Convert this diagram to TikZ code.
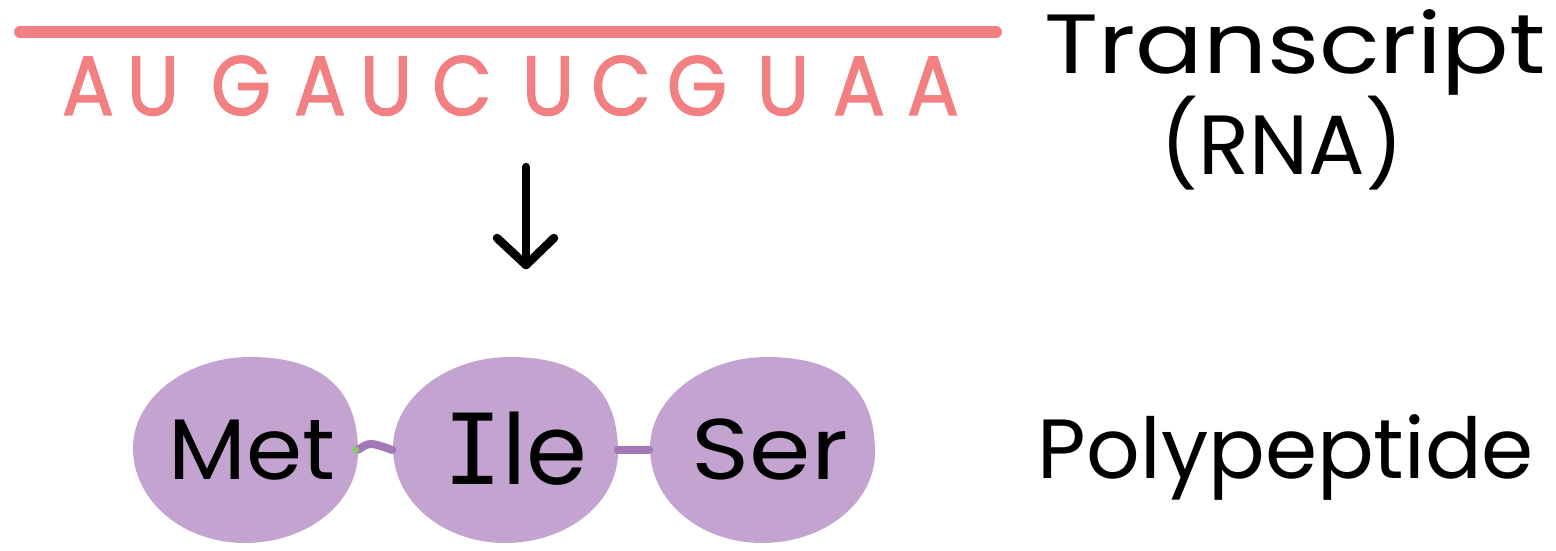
\documentclass[tikz,border=0pt]{standalone}
\usepackage{fontspec}
\setmainfont{Poppins}
\newfontfamily\rnafont[FakeBold=1.6]{Poppins}
\newfontfamily\serifI{DejaVu Sans Mono}
\usetikzlibrary{shapes.geometric}
\definecolor{rna}{RGB}{242,128,130}
\definecolor{blobc}{RGB}{195,163,207}
\definecolor{bond}{RGB}{162,120,182}
\definecolor{tipg}{RGB}{140,200,110}
\tikzset{
  base/.style={font=\fontsize{84}{90}\selectfont, inner sep=0pt, anchor=base},
  rnaletter/.style={base, text=rna, font=\rnafont\fontsize{84}{90}\selectfont, xscale=0.92},
  label/.style={base, text=black},
  residue/.style={ellipse, minimum width=225pt, minimum height=186pt, inner sep=0pt},
  restext/.style={inner sep=0pt, anchor=center, text=black, font=\fontsize{86}{90}\selectfont},
  blobfill/.style={fill=blobc, draw=none},
  bondline/.style={draw=bond, line width=8pt, line cap=round},
  arrowline/.style={draw=black, line width=8.5pt, line cap=round, line join=round},
}
\newcommand{\blobshape}[1]{%
  \fill[blobfill, shift={(#1.center)}]
   (-112,-2) .. controls (-112,-53) and (-57,-93) .. (5,-93)
   .. controls (78,-93) and (113,-60) .. (113,2)
   .. controls (113,53) and (62,93) .. (0,93)
   .. controls (-62,93) and (-112,51) .. (-112,-2) -- cycle;}
\begin{document}
\begin{tikzpicture}[x=1pt,y=-1pt]
\useasboundingbox (0,0) rectangle (1556,551);
% RNA strand
\coordinate (lineL) at (20,32);
\coordinate (lineR) at (996,32);
\draw[rna, line width=12pt, line cap=round] (lineL) -- (lineR);
\foreach \l/\x [count=\i] in {A/88,U/153,G/241,A/320,U/386,C/462,U/548,C/621,G/697,U/783,A/859,A/933}
  \node[rnaletter] (n\i) at (\x,115) {\l};
% labels
\node[label, xscale=1.19] (transcript) at (1295,74) {Transcript};
\node[label] (rnalab) at (1282,174) {(RNA)};
\node[label] (poly) at (1286,478) {Polypeptide};
% arrow
\coordinate (arrS) at (526,167);
\coordinate (arrE) at (526,265);
\draw[arrowline] (arrS) -- (arrE);
\coordinate (hL) at (497,238);
\coordinate (hR) at (554,238);
\draw[arrowline] (hL) -- (arrE) -- (hR);
% residues
\node[residue] (met) at (245,450) {};
\node[residue] (ile) at (505,450) {};
\node[residue] (ser) at (762,450) {};
\blobshape{met}
\blobshape{ile}
\blobshape{ser}
\draw[bondline] (met.east) .. controls ([xshift=12pt,yshift=8pt]met.east) .. (ile.west);
\fill[tipg] ([xshift=-2pt]met.east) circle (3.5pt);
\draw[bondline] (ile.east) -- (ser.west);
\node[restext, xscale=1.05] (mett) at (252,450) {Met};
\node[restext, font=\fontsize{98}{100}\selectfont] (ilet) at (515,449) {{\serifI I}le};
\node[restext, xscale=1.15] (sert) at (770,450) {Ser};
\end{tikzpicture}
\end{document}
